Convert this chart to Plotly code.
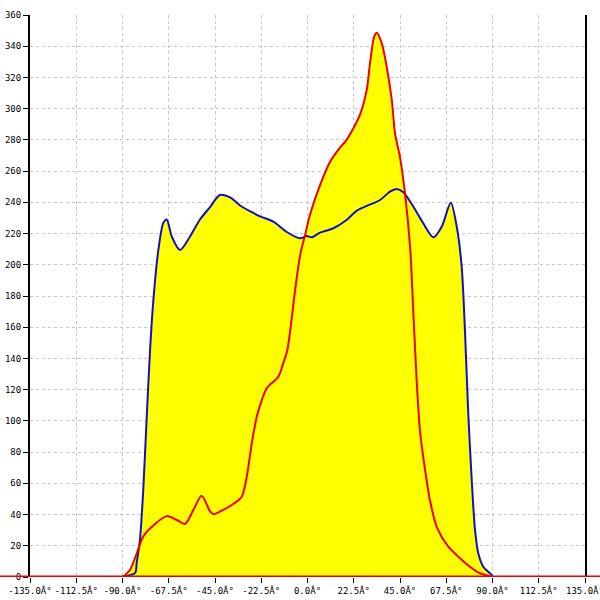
import plotly.graph_objects as go

# Blue series
blue_x = [-90, -83.9, -83.1, -81.5, -79.9, -78.2, -76.6, -75, -72.6, -70.1, -68.5, -66, -62,
          -57.2, -52.3, -47.4, -42.6, -37.5, -32.8, -27.5, -23.1, -16.6, -10.1, -3.6, -0.4,
          2, 6.1, 12.6, 19, 24, 28.8, 35.3, 40.1, 43.4, 46.6, 51.5, 56.3, 61.2, 65.3, 69.7,
          72.6, 75, 76.6, 78.2, 79.9, 81.5, 83.1, 85.5, 89.6, 90]
blue_y = [0, 2.6, 9, 24, 56, 103, 145, 177, 209, 227, 229, 218, 209.5,
          218, 229, 237, 244.7, 243, 238, 234, 231, 227.6, 221, 217, 218.4,
          217.6, 220.6, 223.4, 228.7, 234.7, 237.7, 241.5, 246.8, 248.5, 246.4, 237.2, 226.6, 217.6, 224.4, 239.8,
          224.4, 198.8, 158, 105, 62, 30, 15, 6.6, 1.3, 0]

# Red series
red_x = [-90, -86.4, -83.1, -79.9, -75, -68.5, -63.6, -59.6, -55.5, -51.5, -47.4, -45.8, -41,
         -36.1, -32, -29.6, -27.1, -24.7, -22.3, -19.8, -14.2, -11.8, -9.8, -6, -3.6, -1,
         1.2, 6.1, 11, 15.8, 19, 25.5, 28.8, 30.4, 32.4, 33.7, 36.1, 38.5, 41, 42.6, 45,
         47.4, 49.9, 51.5, 53.1, 54.7, 57.2, 59.6, 62.9, 68.5, 73.4, 79, 83.9, 90]
red_y = [0, 4.5, 15, 26, 33, 39, 36.5, 34, 43, 52, 42, 40.2, 43,
         46.8, 51.4, 64, 85.6, 102.7, 113, 121, 128.3, 137, 145.4, 184, 206, 220,
         232, 251, 266, 275, 280, 296, 312, 329, 346, 348.7, 342, 327, 305.6, 284, 269,
         246, 211.6, 169, 126, 94, 68.5, 49, 32, 19.4, 13, 6.6, 2.4, 0]

x_ticks = [-135, -112.5, -90, -67.5, -45, -22.5, 0, 22.5, 45, 67.5, 90, 112.5, 135]
x_tick_text = [f"{v:.1f}Â°" for v in x_ticks]
y_ticks = list(range(0, 361, 20))

fig = go.Figure()
fig.add_trace(go.Scatter(x=blue_x, y=blue_y, mode="lines", line=dict(width=0, shape="spline", smoothing=0.8),
                         fill="tozeroy", fillcolor="#ffff00", hoverinfo="skip"))
fig.add_trace(go.Scatter(x=red_x, y=red_y, mode="lines", line=dict(width=0, shape="spline", smoothing=0.8),
                         fill="tozeroy", fillcolor="#ffff00", hoverinfo="skip"))
fig.add_trace(go.Scatter(x=blue_x, y=blue_y, mode="lines",
                         line=dict(color="#1010c8", width=2, shape="spline", smoothing=0.8)))
fig.add_trace(go.Scatter(x=red_x, y=red_y, mode="lines",
                         line=dict(color="#ee0000", width=2, shape="spline", smoothing=0.8)))

fig.add_shape(type="line", xref="paper", yref="y", x0=-0.06, x1=1.03, y0=0, y1=0,
              line=dict(color="#ee0000", width=3), layer="above")

tick_font = dict(family="DejaVu Sans Mono", size=9, color="black")
fig.update_layout(
    width=600, height=600,
    margin=dict(l=30, r=15, t=15, b=23),
    paper_bgcolor="white", plot_bgcolor="white",
    showlegend=False,
    xaxis=dict(range=[-135, 135], tickvals=x_ticks, ticktext=x_tick_text, tickfont=tick_font,
               ticks="outside", ticklen=5, tickcolor="black", showline=False, zeroline=False,
               ticklabeloverflow="allow",
               showgrid=True, gridcolor="#c8c8c8", griddash="3px,3px", gridwidth=1, automargin=False),
    yaxis=dict(range=[0, 360], tickvals=y_ticks, tickfont=tick_font,
               ticks="outside", ticklen=5, tickcolor="black", showline=True, linecolor="black",
               linewidth=2, mirror=True, zeroline=False,
               showgrid=True, gridcolor="#c8c8c8", griddash="3px,3px", gridwidth=1, automargin=False),
)

fig.write_html("out.html", config={"displayModeBar": False},
               post_script="document.body.style.margin='0px';")
